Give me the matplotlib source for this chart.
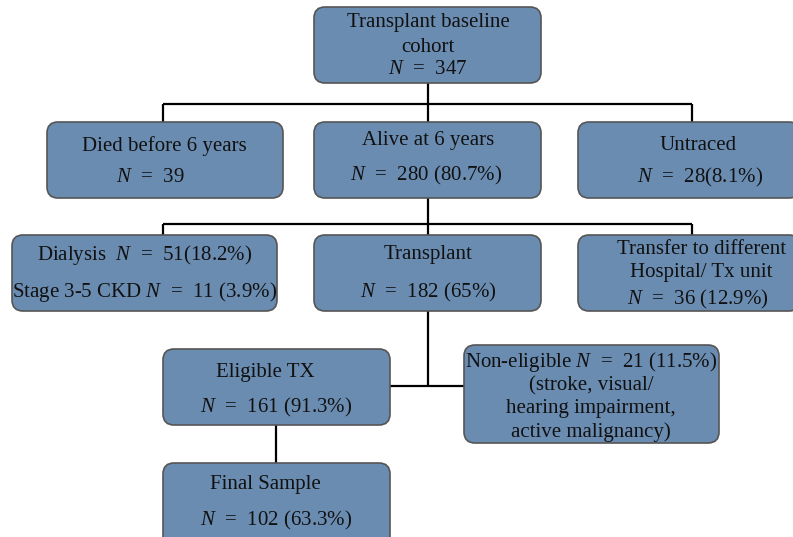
import matplotlib.pyplot as plt
from matplotlib.patches import FancyBboxPatch

plt.rcParams['font.family'] = 'Liberation Serif'
plt.rcParams['mathtext.fontset'] = 'custom'
plt.rcParams['mathtext.rm'] = 'Liberation Serif'
plt.rcParams['mathtext.it'] = 'Liberation Serif:italic'

# box texts
cohort = ["Transplant baseline", "cohort", "$N$ = 347"]
died = ["Died before 6 years", "$N$ = 39"]
alive = ["Alive at 6 years", "$N$ = 280 (80.7%)"]
untraced = ["Untraced", "$N$ = 28(8.1%)"]
dialysis = ["Dialysis  $N$ = 51(18.2%)", "Stage 3-5 CKD $N$ = 11 (3.9%)"]
transplant = ["Transplant", "$N$ = 182 (65%)"]
transfer = ["Transfer to different", "Hospital/ Tx unit", "$N$ = 36 (12.9%)"]
eligible = ["Eligible TX", "$N$ = 161 (91.3%)"]
noneligible = ["Non-eligible $N$ = 21 (11.5%)", "(stroke, visual/", "hearing impairment,", "active malignancy)"]
final = ["Final Sample", "$N$ = 102 (63.3%)"]

fill = '#6a8cb1'
edge = '#555555'

fig = plt.figure(figsize=(7.93, 5.37), dpi=100)
ax = fig.add_axes([0, 0, 1, 1])
ax.set_xlim(0, 793)
ax.set_ylim(537, 0)
ax.axis('off')


def box(x0, y0, x1, y1):
    p = FancyBboxPatch((x0, y0), x1 - x0, y1 - y0,
                       boxstyle="round,pad=0,rounding_size=11",
                       fc=fill, ec=edge, lw=1.2, zorder=2)
    ax.add_patch(p)


def lines(texts, xs, ys, size=15.0):
    for t, x, y in zip(texts, xs, ys):
        t = t.replace(' = ', '  =  ')
        ax.text(x, y + 2, t, ha='center', va='center', fontsize=size,
                color='#111111', zorder=3)


def seg(xs, ys):
    ax.plot(xs, ys, color='black', lw=1.6, zorder=1,
            solid_capstyle='butt')


# connectors
seg([428, 428], [83, 104])
seg([163, 692], [104, 104])
seg([163, 163], [104, 122])
seg([428, 428], [104, 122])
seg([692, 692], [104, 122])
seg([428, 428], [198, 224])
seg([163, 692], [224, 224])
seg([163, 163], [224, 235])
seg([428, 428], [224, 235])
seg([692, 692], [224, 235])
seg([428, 428], [311, 386])
seg([390, 464], [386, 386])
seg([276, 276], [425, 463])

# boxes
box(314, 7, 541, 83)
box(47, 122, 283, 198)
box(314, 122, 541, 198)
box(578, 122, 800, 198)
box(12, 235, 277, 311)
box(314, 235, 541, 311)
box(578, 235, 800, 311)
box(163, 349, 390, 425)
box(464, 345, 719, 443)
box(163, 463, 390, 550)

lines(cohort, [428, 428, 428], [21, 45, 68])
lines(died, [164, 150], [144, 175])
lines(alive, [428, 426], [138, 173])
lines(untraced, [698, 700], [143, 175])
lines(dialysis, [145, 145], [253, 290])
lines(transplant, [428, 428], [253, 290])
lines(transfer, [702, 701, 698], [247, 271, 297])
lines(eligible, [265, 276], [370, 405])
lines(noneligible, [591, 591, 591, 591], [360, 384, 407, 430])
lines(final, [265, 276], [483, 518])

fig.savefig('out.png', dpi=100)
